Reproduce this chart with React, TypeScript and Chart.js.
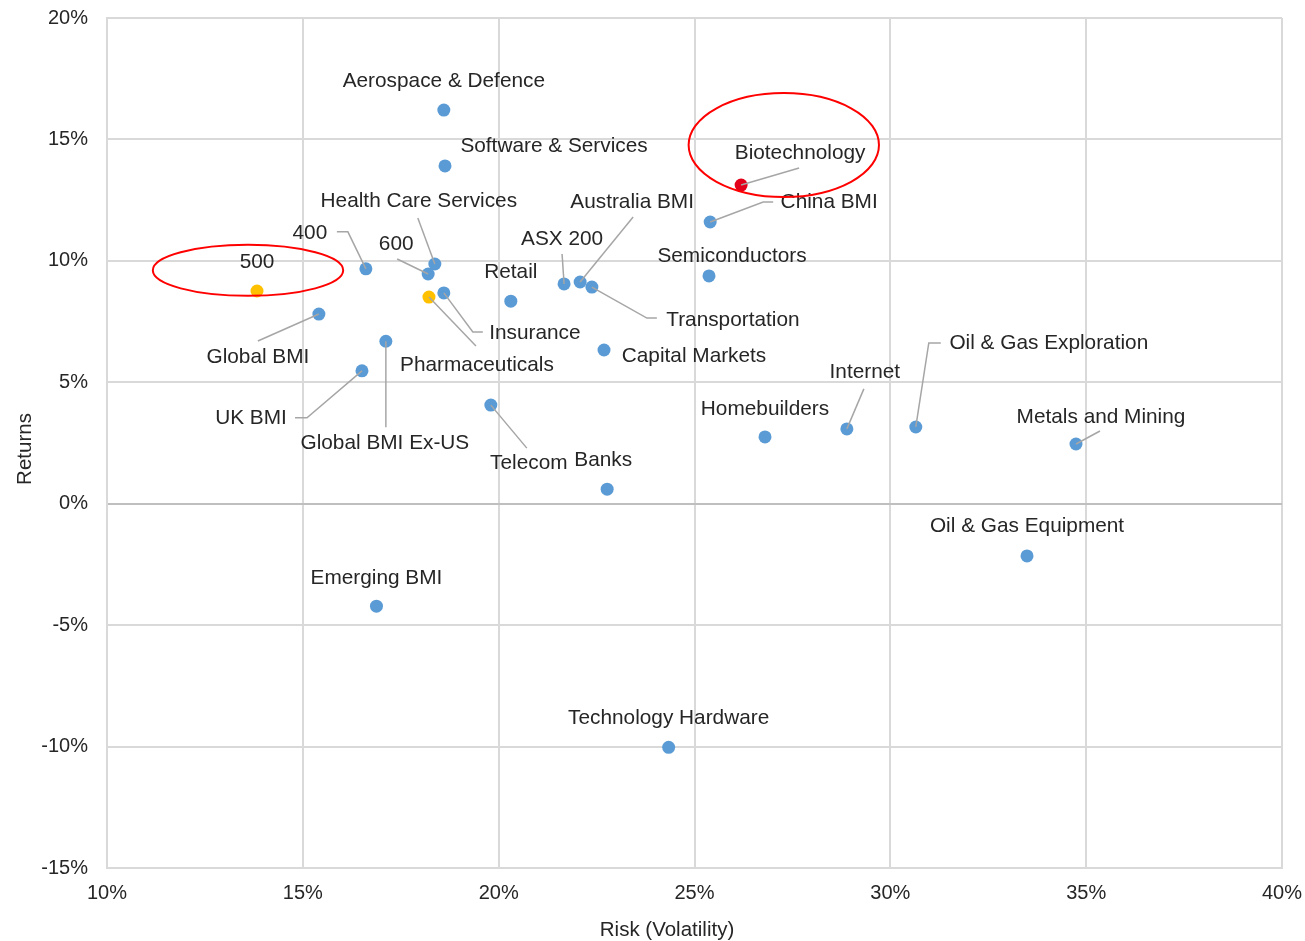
import React, { useEffect, useRef } from "react";
import { Chart, registerables } from "chart.js";

Chart.register(...registerables);

// ---- data ----
const names = [
  "Aerospace & Defence", "Software & Services", "Biotechnology", "China BMI",
  "Health Care Services", "400", "600", "500", "Semiconductors", "Australia BMI",
  "ASX 200", "Transportation", "Pharmaceuticals", "Insurance", "Retail",
  "Global BMI", "Global BMI Ex-US", "Capital Markets", "UK BMI", "Telecom",
  "Banks", "Homebuilders", "Internet", "Oil & Gas Exploration", "Metals and Mining",
  "Oil & Gas Equipment", "Emerging BMI", "Technology Hardware",
];
const risk = [
  18.60, 18.63, 26.19, 25.40, 18.37, 16.61, 18.20, 13.83, 25.37, 22.08,
  21.67, 22.38, 18.22, 18.60, 20.31, 15.41, 17.12, 22.69, 16.51, 19.80,
  22.77, 26.80, 28.89, 30.65, 34.74, 33.49, 16.88, 24.34,
];
const returns = [
  16.21, 13.91, 13.12, 11.60, 9.87, 9.67, 9.46, 8.76, 9.38, 9.13,
  9.05, 8.92, 8.51, 8.68, 8.34, 7.81, 6.69, 6.33, 5.47, 4.06,
  0.60, 2.75, 3.08, 3.16, 2.46, -2.15, -4.22, -10.03,
];
// group: 0 = sector/index, 1 = benchmark highlight, 2 = focus
const group = [
  0, 0, 2, 0, 0, 0, 0, 1, 0, 0,
  0, 0, 1, 0, 0, 0, 0, 0, 0, 0,
  0, 0, 0, 0, 0, 0, 0, 0,
];
const xTicks = [10, 15, 20, 25, 30, 35, 40];
const yTicks = [-15, -10, -5, 0, 5, 10, 15, 20];
// highlighted regions (centre and radii in data units)
const calloutX = [13.6, 27.28];
const calloutY = [9.61, 14.77];
const calloutRX = [2.43, 2.43];
const calloutRY = [1.05, 2.14];

// ---- styling / layout ----
const groupColors = ["#5B9BD5", "#FFC000", "#E3001B"];
// label centre offset [dx, dy] in px and leader polyline (px offsets from the point)
const labelLayout: { d: [number, number]; leader?: [number, number][] }[] = [
  { d: [0, -29] },
  { d: [109, -20] },
  { d: [59, -32], leader: [[0, 0], [58, -17]] },
  { d: [119, -20], leader: [[0, 0], [53, -20], [63, -20]] },
  { d: [-16, -63], leader: [[0, 0], [-17, -46]] },
  { d: [-56, -36], leader: [[0, 0], [-18, -37], [-29, -37]] },
  { d: [-32, -30], leader: [[0, 0], [-31, -15]] },
  { d: [0, -29] },
  { d: [23, -20] },
  { d: [52, -80], leader: [[0, 0], [53, -65]] },
  { d: [-2, -45], leader: [[0, 0], [-2, -30]] },
  { d: [141, 33], leader: [[0, 0], [55, 31], [65, 31]] },
  { d: [48, 68], leader: [[0, 0], [47, 49]] },
  { d: [91, 40], leader: [[0, 0], [29, 39], [39, 39]] },
  { d: [0, -29] },
  { d: [-61, 43], leader: [[0, 0], [-61, 27]] },
  { d: [-1, 102], leader: [[0, 0], [0, 86]] },
  { d: [90, 6] },
  { d: [-111, 47], leader: [[0, 0], [-55, 47], [-67, 47]] },
  { d: [38, 58], leader: [[0, 0], [36, 43]] },
  { d: [-4, -29] },
  { d: [0, -28] },
  { d: [18, -57], leader: [[0, 0], [17, -40]] },
  { d: [133, -84], leader: [[0, 0], [13, -84], [25, -84]] },
  { d: [25, -27], leader: [[0, 0], [24, -13]] },
  { d: [0, -30] },
  { d: [0, -28] },
  { d: [0, -29] },
];

const FONT = "'Liberation Sans', Arial, sans-serif";
const TEXT = "#262626";
const LABEL_SIZE = 20.8;

const labelPlugin = {
  id: "labels",
  afterDatasetsDraw(chart: any) {
    const ctx = chart.ctx;
    const xs = chart.scales.x;
    const ys = chart.scales.y;
    ctx.save();
    // leaders
    ctx.strokeStyle = "#a6a6a6";
    ctx.lineWidth = 1.5;
    names.forEach((_, i) => {
      const L = labelLayout[i];
      if (!L.leader) return;
      const px = xs.getPixelForValue(risk[i]);
      const py = ys.getPixelForValue(returns[i]);
      ctx.beginPath();
      L.leader.forEach((p, k) => {
        if (k === 0) ctx.moveTo(px + p[0], py + p[1]);
        else ctx.lineTo(px + p[0], py + p[1]);
      });
      ctx.stroke();
    });
    // labels
    ctx.fillStyle = TEXT;
    ctx.font = `${LABEL_SIZE}px ${FONT}`;
    ctx.textAlign = "center";
    ctx.textBaseline = "middle";
    names.forEach((n, i) => {
      const L = labelLayout[i];
      const px = xs.getPixelForValue(risk[i]);
      const py = ys.getPixelForValue(returns[i]);
      ctx.fillText(n, px + L.d[0], py + L.d[1]);
    });
    // callout ellipses
    ctx.strokeStyle = "#FF0000";
    ctx.lineWidth = 2;
    calloutX.forEach((cx, i) => {
      const x = xs.getPixelForValue(cx);
      const y = ys.getPixelForValue(calloutY[i]);
      const rx = Math.abs(xs.getPixelForValue(cx + calloutRX[i]) - x);
      const ry = Math.abs(ys.getPixelForValue(calloutY[i] + calloutRY[i]) - y);
      ctx.beginPath();
      ctx.ellipse(x, y, rx, ry, 0, 0, Math.PI * 2);
      ctx.stroke();
    });
    // axis titles
    const a = chart.chartArea;
    ctx.fillStyle = TEXT;
    ctx.font = `20.5px ${FONT}`;
    ctx.textAlign = "center";
    ctx.textBaseline = "middle";
    ctx.fillText("Risk (Volatility)", a.left + 560, 930);
    ctx.translate(25, (a.top + a.bottom) / 2 + 6);
    ctx.rotate(-Math.PI / 2);
    ctx.fillText("Returns", 0, 0);
    ctx.restore();
  },
};

export default function App() {
  const ref = useRef<HTMLCanvasElement>(null);
  useEffect(() => {
    document.body.style.margin = "0";
    const canvas = ref.current!;
    const chart = new Chart(canvas, {
      type: "scatter",
      data: {
        datasets: [
          {
            data: risk.map((x, i) => ({ x, y: returns[i] })),
            pointBackgroundColor: group.map((g) => groupColors[g]),
            pointBorderColor: group.map((g) => groupColors[g]),
            pointRadius: 6.5,
            pointBorderWidth: 0,
          },
        ],
      },
      options: {
        responsive: false,
        animation: false,
        devicePixelRatio: 1,
        layout: { padding: { top: 18, right: 23, left: 0, bottom: 0 } },
        plugins: { legend: { display: false }, tooltip: { enabled: false } },
        scales: {
          x: {
            type: "linear",
            min: 10,
            max: 40,
            afterBuildTicks: (s: any) => {
              s.ticks = xTicks.map((v) => ({ value: v }));
            },
            afterFit: (s: any) => {
              s.height = 73;
              s.paddingLeft = 0;
              s.paddingRight = 0;
              s.paddingTop = 0;
              s.paddingBottom = 0;
            },
            grid: { color: "#d9d9d9", lineWidth: 2, drawTicks: false },
            border: { display: true, color: "#d9d9d9", width: 2 },
            ticks: {
              padding: 13,
              color: TEXT,
              font: { family: FONT, size: 20 },
              callback: (v: any) => v + "%",
            },
          },
          y: {
            type: "linear",
            min: -15,
            max: 20,
            afterBuildTicks: (s: any) => {
              s.ticks = yTicks.map((v) => ({ value: v }));
            },
            afterFit: (s: any) => {
              s.width = 107;
              s.paddingLeft = 0;
              s.paddingRight = 0;
              s.paddingTop = 0;
              s.paddingBottom = 0;
            },
            grid: {
              color: (c: any) => (c.tick && c.tick.value === 0 ? "#bfbfbf" : "#d9d9d9"),
              lineWidth: 2,
              drawTicks: false,
            },
            border: { display: true, color: "#d9d9d9", width: 2 },
            ticks: {
              padding: 19,
              color: TEXT,
              font: { family: FONT, size: 20 },
              callback: (v: any) => v + "%",
            },
          },
        },
      },
      plugins: [labelPlugin],
    } as any);
    return () => chart.destroy();
  }, []);
  return <canvas ref={ref} width={1305} height={941} style={{ display: "block" }} />;
}
